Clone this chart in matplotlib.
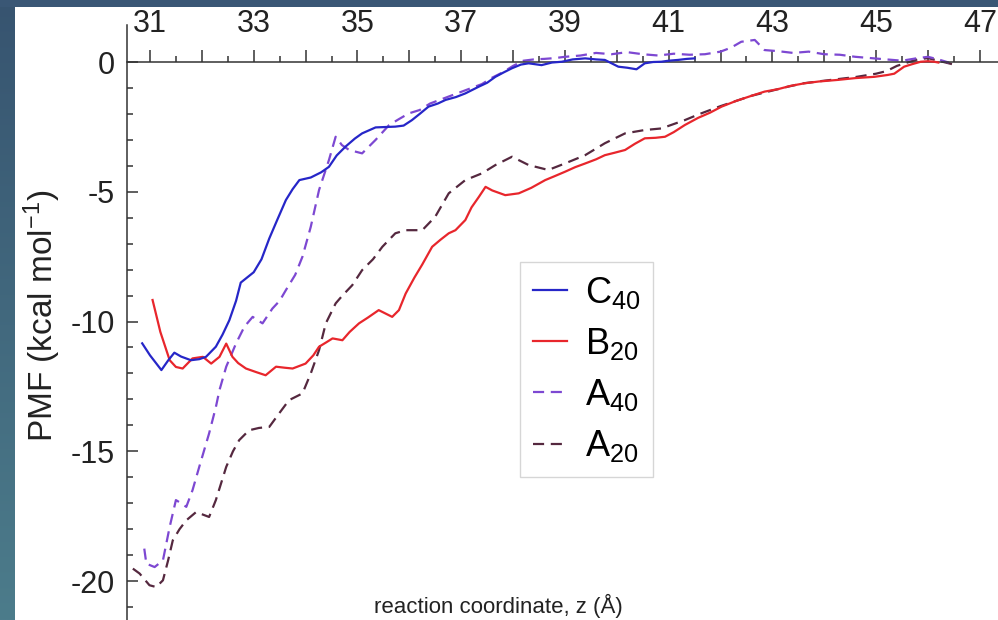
import numpy as np
import matplotlib
matplotlib.use("Agg")
import matplotlib.pyplot as plt
from matplotlib.ticker import MultipleLocator, FixedLocator, FuncFormatter
from matplotlib.patches import Rectangle

plt.rcParams['font.family'] = ['Liberation Sans', 'DejaVu Sans']
plt.rcParams['mathtext.default'] = 'regular'
plt.rcParams['axes.unicode_minus'] = False

# PMF curves (z in Angstrom, PMF in kcal/mol)
c40_z = [30.85, 31.0, 31.22, 31.35, 31.47, 31.6, 31.79, 31.95, 32.08, 32.27, 32.4, 32.53,
         32.66, 32.75, 33.0, 33.15, 33.3, 33.45, 33.62, 33.75, 33.88, 34.1, 34.3, 34.45,
         34.6, 34.77, 34.95, 35.09, 35.35, 35.6, 35.73, 35.89, 36.05, 36.2, 36.37, 36.55,
         36.7, 36.9, 37.08, 37.34, 37.5, 37.66, 37.82, 37.98, 38.15, 38.3, 38.55, 38.75,
         38.94, 39.15, 39.39, 39.6, 39.77, 39.9, 40.03, 40.2, 40.38, 40.54, 40.7, 40.86,
         41.0, 41.18, 41.35, 41.5]
c40_pmf = [-10.84, -11.3, -11.87, -11.5, -11.2, -11.35, -11.49, -11.45, -11.36, -10.97, -10.5, -9.95,
           -9.2, -8.5, -8.1, -7.6, -6.8, -6.1, -5.32, -4.9, -4.55, -4.45, -4.25, -4.04,
           -3.6, -3.26, -2.95, -2.75, -2.52, -2.5, -2.49, -2.45, -2.24, -2.0, -1.72, -1.6,
           -1.46, -1.35, -1.21, -0.95, -0.8, -0.57, -0.4, -0.24, -0.1, -0.05, -0.12, -0.02,
           0.01, 0.1, 0.14, 0.1, 0.08, -0.05, -0.18, -0.22, -0.28, -0.05, 0.0, 0.01,
           0.05, 0.08, 0.12, 0.14]

b20_z = [31.05, 31.2, 31.38, 31.5, 31.63, 31.82, 32.02, 32.18, 32.34, 32.47, 32.59, 32.7,
         32.85, 33.05, 33.23, 33.43, 33.6, 33.75, 34.0, 34.15, 34.26, 34.4, 34.52, 34.71,
         34.85, 35.03, 35.2, 35.41, 35.55, 35.67, 35.8, 35.93, 36.1, 36.25, 36.44, 36.6,
         36.76, 36.89, 37.08, 37.2, 37.34, 37.47, 37.6, 37.85, 38.11, 38.35, 38.62, 38.8,
         39.0, 39.2, 39.39, 39.6, 39.77, 39.95, 40.16, 40.35, 40.54, 40.75, 40.93, 41.1,
         41.31, 41.57, 41.8, 42.02, 42.3, 42.6, 42.85, 43.1, 43.35, 43.62, 43.9, 44.26,
         44.6, 44.97, 45.22, 45.35, 45.54, 45.7, 45.86, 46.0, 46.12, 46.2]
b20_pmf = [-9.17, -10.4, -11.49, -11.75, -11.81, -11.42, -11.36, -11.62, -11.36, -10.85, -11.36, -11.6,
           -11.81, -11.95, -12.07, -11.74, -11.78, -11.81, -11.62, -11.3, -10.97, -10.8, -10.65, -10.72,
           -10.4, -10.07, -9.85, -9.56, -9.7, -9.82, -9.56, -8.92, -8.3, -7.8, -7.12, -6.85,
           -6.6, -6.48, -6.09, -5.6, -5.2, -4.81, -4.95, -5.13, -5.06, -4.85, -4.55, -4.4,
           -4.23, -4.05, -3.91, -3.75, -3.59, -3.5, -3.39, -3.15, -2.94, -2.92, -2.88, -2.7,
           -2.43, -2.15, -1.95, -1.72, -1.5, -1.3, -1.14, -1.05, -0.92, -0.82, -0.75, -0.69,
           -0.62, -0.57, -0.5, -0.45, -0.18, -0.08, 0.01, 0.03, 0.01, -0.02]

a40_z = [30.89, 30.93, 31.09, 31.25, 31.38, 31.5, 31.6, 31.7, 31.82, 31.95, 32.14, 32.27,
         32.34, 32.47, 32.66, 32.82, 32.98, 33.17, 33.36, 33.5, 33.62, 33.8, 33.94, 34.1,
         34.26, 34.45, 34.58, 34.7, 34.84, 35.09, 35.35, 35.61, 35.8, 35.99, 36.2, 36.4,
         36.6, 36.8, 37.0, 37.2, 37.4, 37.6, 37.8, 38.0, 38.2, 38.4, 38.6, 38.8,
         39.0, 39.3, 39.6, 39.9, 40.2, 40.5, 40.8, 41.1, 41.4, 41.7, 42.0, 42.2,
         42.4, 42.66, 42.85, 43.1, 43.4, 43.7, 44.0, 44.3, 44.6, 44.9, 45.2, 45.5,
         45.8, 46.0, 46.2, 46.4]
a40_pmf = [-18.75, -19.33, -19.46, -19.2, -17.91, -16.88, -17.0, -17.14, -16.5, -15.6, -14.31, -13.3,
           -12.64, -11.74, -10.84, -10.2, -9.82, -10.07, -9.5, -9.2, -8.79, -8.2, -7.5, -6.35,
           -4.93, -3.78, -2.88, -3.2, -3.39, -3.52, -3.0, -2.43, -2.2, -1.98, -1.85, -1.6,
           -1.45, -1.3, -1.15, -1.0, -0.85, -0.6, -0.4, -0.15, 0.05, 0.1, 0.12, 0.15,
           0.2, 0.25, 0.35, 0.3, 0.38, 0.3, 0.25, 0.32, 0.28, 0.3, 0.4, 0.55,
           0.78, 0.85, 0.46, 0.42, 0.35, 0.4, 0.3, 0.28, 0.2, 0.15, 0.1, 0.05,
           0.15, 0.2, 0.1, -0.02]

a20_z = [30.67, 30.8, 30.99, 31.12, 31.25, 31.35, 31.44, 31.57, 31.7, 31.89, 32.14, 32.27,
         32.47, 32.6, 32.72, 32.91, 33.1, 33.3, 33.49, 33.68, 33.94, 34.1, 34.26, 34.39,
         34.58, 34.71, 34.9, 35.09, 35.3, 35.48, 35.73, 35.93, 36.25, 36.5, 36.76, 37.08,
         37.4, 37.66, 37.98, 38.3, 38.68, 39.0, 39.39, 39.77, 40.16, 40.54, 40.86, 41.31,
         41.6, 42.0, 42.3, 42.6, 43.0, 43.3, 43.6, 44.0, 44.3, 44.6, 45.0, 45.2,
         45.4, 45.6, 45.8, 46.0, 46.2, 46.5]
a20_pmf = [-19.52, -19.71, -20.16, -20.23, -19.97, -19.2, -18.43, -18.0, -17.66, -17.34, -17.53, -16.88,
           -15.6, -15.0, -14.57, -14.19, -14.1, -14.06, -13.54, -13.03, -12.77, -12.0, -11.1, -10.07,
           -9.3, -9.0, -8.6, -8.02, -7.6, -7.12, -6.6, -6.48, -6.48, -5.96, -5.06, -4.55,
           -4.29, -3.97, -3.65, -3.97, -4.16, -3.91, -3.59, -3.13, -2.75, -2.62, -2.56, -2.24,
           -2.0, -1.7, -1.5, -1.3, -1.1, -0.95, -0.82, -0.72, -0.65, -0.58, -0.45, -0.35,
           -0.15, -0.02, 0.1, 0.15, 0.05, -0.1]

series_labels = ['C$_{40}$', 'B$_{20}$', 'A$_{40}$', 'A$_{20}$']
x_ticks = list(range(31, 48))
y_ticks = [0, -5, -10, -15, -20]

W, H = 998, 620
fig = plt.figure(figsize=(W / 100, H / 100), dpi=100, facecolor='white')

# dark slide frame: gradient strip on the left, band on top
strip = fig.add_axes([0, 0, 15 / W, 1])
grad = np.linspace(0, 1, 256).reshape(-1, 1)
top_c = np.array([0x37, 0x54, 0x70]) / 255
bot_c = np.array([0x4c, 0x7c, 0x8b]) / 255
img = top_c[None, None, :] * (1 - grad[:, :, None]) + bot_c[None, None, :] * grad[:, :, None]
strip.imshow(img, aspect='auto', extent=[0, 1, 0, 1])
strip.axis('off')
fig.patches.append(Rectangle((0, 1 - 7 / H), 1, 7 / H, transform=fig.transFigure,
                             facecolor='#3a5775', edgecolor='none', zorder=5))

ax = fig.add_axes([127 / W, 0, (W - 127) / W, (H - 25) / H])
ax.set_xlim(30.557, 47.35)
ax.set_ylim(-21.5, 1.426)

dash = (5, 3)
ax.plot(a20_z, a20_pmf, color='#55283f', lw=1.6, dashes=dash, label=series_labels[3], zorder=2)
ax.plot(a40_z, a40_pmf, color='#7d48d2', lw=1.6, dashes=dash, label=series_labels[2], zorder=2)
ax.plot(b20_z, b20_pmf, color='#e8262c', lw=1.6, label=series_labels[1], zorder=3)
ax.plot(c40_z, c40_pmf, color='#2626c8', lw=1.6, label=series_labels[0], zorder=3)

for s in ['right', 'bottom']:
    ax.spines[s].set_visible(False)
ax.spines['top'].set_position(('data', 0))
for s in ['top', 'left']:
    ax.spines[s].set_linewidth(1.1)
    ax.spines[s].set_color('#333333')

ax.xaxis.set_ticks_position('top')
ax.xaxis.set_major_locator(FixedLocator(x_ticks))
ax.xaxis.set_minor_locator(MultipleLocator(0.5))
ax.xaxis.set_major_formatter(FuncFormatter(lambda v, p: str(int(round(v))) if int(round(v)) % 2 else ''))
ax.tick_params(axis='x', which='major', direction='out', length=8.5, width=1.1,
               pad=8, labelsize=22, colors='#333333', labelcolor='#222222')
ax.tick_params(axis='x', which='minor', direction='out', length=4, width=1.1, colors='#333333')

ax.yaxis.set_major_locator(FixedLocator(y_ticks))
ax.yaxis.set_minor_locator(FixedLocator([v for v in range(-21, 0) if v % 5]))
ax.tick_params(axis='y', which='major', direction='in', length=8, width=1.1,
               pad=8.5, labelsize=22, colors='#333333', labelcolor='#222222')
ax.tick_params(axis='y', which='minor', direction='in', length=4, width=1.1, colors='#333333')

fig.text(42 / W, 1 - 316 / H, 'PMF (kcal mol$^{-1}$)', rotation=90, ha='center', va='center',
         fontsize=24, color='#222222')
fig.text(498 / W, 1 - 613 / H, 'reaction coordinate, z (Å)', ha='center', va='baseline',
         fontsize=16, color='#222222')

h, l = ax.get_legend_handles_labels()
leg = ax.legend(h[::-1], l[::-1], loc='upper left', bbox_to_anchor=(520 / W, 1 - 262 / H),
                bbox_transform=fig.transFigure, fontsize=26, frameon=True, fancybox=False,
                handlelength=0.95, handletextpad=0.5, labelspacing=0.42, borderpad=0.35,
                borderaxespad=0)
leg.get_frame().set_edgecolor('#cccccc')
leg.get_frame().set_linewidth(1.0)

fig.savefig('out.png', dpi=100, facecolor=fig.get_facecolor())
